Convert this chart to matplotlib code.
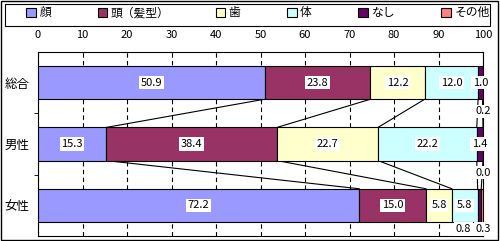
import matplotlib.pyplot as plt
import numpy as np

plt.rcParams['font.family'] = ['Noto Sans CJK JP', 'DejaVu Sans']

# データ
groups = ['総合', '男性', '女性']
series = ['顔', '頭（髪型）', '歯', '体', 'なし', 'その他']
values = [
    [50.9, 15.3, 72.2],   # 顔
    [23.8, 38.4, 15.0],   # 頭(髪型)
    [12.2, 22.7, 5.8],    # 歯
    [12.0, 22.2, 5.8],    # 体
    [1.0, 1.4, 0.8],      # なし
    [0.2, 0.0, 0.3],      # その他
]
colors = ['#9999FF', '#993366', '#FFFFCC', '#CCFFFF', '#660066', '#FF8080']
xticks = [0, 10, 20, 30, 40, 50, 60, 70, 80, 90, 100]

# ラベルを棒の下に出すもの (系列, 群) -> (x方向のずれ px)
below = {(5, 0): 0, (5, 1): 0, (4, 2): -16, (5, 2): 1}

fig = plt.figure(figsize=(5, 2.41), dpi=100)
ax = fig.add_axes([38 / 500, 1 - 236 / 241, 445 / 500, 184 / 241])

vals = np.array(values)
cum = np.cumsum(vals, axis=0)
starts = cum - vals
y = np.arange(len(groups))
h = 0.54

for i, name in enumerate(series):
    ax.barh(y, vals[i], left=starts[i], height=h, color=colors[i],
            edgecolor='black', linewidth=0.8, label=name, zorder=3)

# 系列線
for g in range(len(groups) - 1):
    for i in range(len(series) - 1):
        ax.plot([cum[i, g], cum[i, g + 1]], [g + h / 2, g + 1 - h / 2],
                color='black', lw=0.8, zorder=2)

# データラベル
for i in range(len(series)):
    for g in range(len(groups)):
        xc = starts[i, g] + vals[i, g] / 2
        txt = f'{vals[i, g]:.1f}'
        if (i, g) in below:
            dx = below[(i, g)]
            dy = -12 if g < 2 else -7
            ax.annotate(txt, (xc, g + h / 2), xytext=(dx * 0.72, dy * 0.72),
                        textcoords='offset points', ha='center', va='center',
                        fontsize=8, zorder=5,
                        bbox=dict(boxstyle='square,pad=0.15', fc='white', ec='none'))
        else:
            ax.text(xc, g, txt, ha='center', va='center', fontsize=8, zorder=5,
                    bbox=dict(boxstyle='square,pad=0.15', fc='white', ec='none'))

ax.set_xlim(0, 100)
ax.set_ylim(2.5, -0.5)
ax.set_xticks(xticks)
ax.xaxis.tick_top()
ax.tick_params(axis='x', length=0, pad=9, labelsize=8)
ax.set_yticks(y)
ax.set_yticklabels(groups, fontsize=9)
ax.set_yticks([0.5, 1.5], minor=True)
ax.tick_params(axis='y', which='major', length=0, pad=6)
ax.tick_params(axis='y', which='minor', length=3, direction='out')
ax.xaxis.grid(True, color='black', linestyle=(0, (4, 3)), linewidth=0.8)
ax.set_axisbelow(True)
for s in ax.spines.values():
    s.set_linewidth(0.8)

# 凡例（枠は別に描く）
leg = fig.legend(loc='upper left', bbox_to_anchor=(24 / 500, 1 - 26 / 241, 468 / 500, 22 / 241),
                 mode='expand', ncol=6, fontsize=8.5, frameon=False,
                 handlelength=0.8, handleheight=0.8, handletextpad=0.3,
                 borderpad=0.2, borderaxespad=0)
for p in leg.get_patches():
    p.set_edgecolor('black')
fig.patches.append(plt.Rectangle((5 / 500, 1 - 26 / 241), 485 / 500, 22 / 241,
                                 transform=fig.transFigure, fill=False,
                                 edgecolor='black', linewidth=0.8))

fig.patches.append(plt.Rectangle((0.002, 0.004), 0.994, 0.99, transform=fig.transFigure,
                                 fill=False, edgecolor='black', linewidth=1))

fig.savefig('out.png', dpi=100)
